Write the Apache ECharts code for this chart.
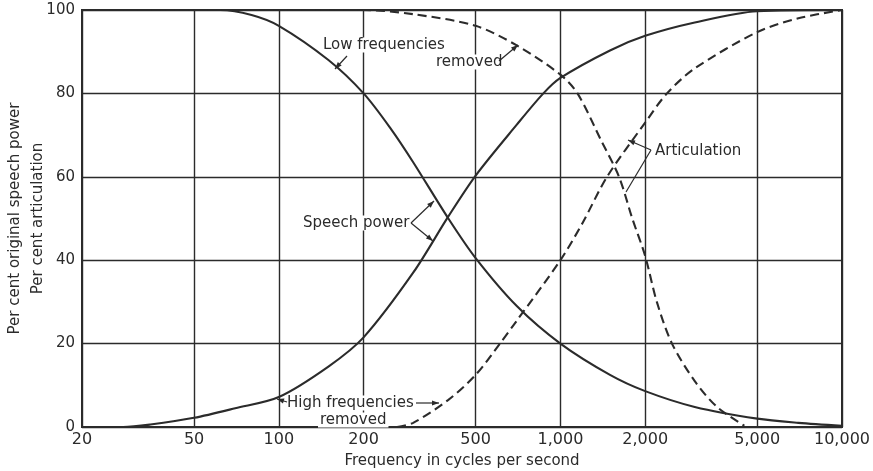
<!DOCTYPE html>
<html><head><meta charset="utf-8">
<script src="https://cdn.jsdelivr.net/npm/echarts@6/dist/echarts.min.js"></script>
<style>html,body{margin:0;padding:0;background:#fff}#c{width:873px;height:471px}</style>
</head><body><div id="c"></div>
<script>
// ---- data ----
const xTicks = [20, 50, 100, 200, 500, 1000, 2000, 5000, 10000];
const xTickLabels = ['20', '50', '100', '200', '500', '1,000', '2,000', '5,000', '10,000'];
const yTicks = [0, 20, 40, 60, 80, 100];

// Speech power, low frequencies removed (solid, falling)
const speechLowRemoved = [[20,100],[62,100],[80,98.8],[100,96.2],[150,88],[200,80],[250,71.5],[300,63.5],[400,50],[500,40.5],[700,29],[1000,20],[1500,12.5],[2000,8.6],[3000,4.8],[5000,2],[7000,1],[10000,0.3]];
// Speech power, high frequencies removed (solid, rising)
const speechHighRemoved = [[20,0],[28,0],[35,0.6],[50,2.2],[70,4.5],[100,7.2],[150,14.5],[200,21.5],[300,37],[400,50.5],[500,60.3],[700,72.5],[870,80],[1000,83.7],[1500,90.3],[2000,93.8],[3000,97],[5000,99.7],[10000,100]];
// Articulation, low frequencies removed (dashed, falling)
const articLowRemoved = [[20,100],[200,100],[300,99],[500,96.2],[700,91.5],[1000,84.5],[1150,80],[1400,68.5],[1615,60],[1800,50],[2000,41],[2200,30],[2490,20],[3000,11],[3600,4.8],[4500,0.3]];
// Articulation, high frequencies removed (dashed, rising)
const articHighRemoved = [[263,0],[300,1],[400,6.5],[500,12.5],[610,20],[700,25.5],[1000,40],[1200,49],[1464,60],[2000,73],[2390,80],[3000,86],[5000,94.7],[7000,98],[10000,100]];

const C = '#2b2b2b';
const FONT = 'DejaVu Sans';

const chart = echarts.init(document.getElementById('c'), null, {renderer: 'canvas'});

function labelFor(v) {
  let best = 0, bd = Infinity;
  xTicks.forEach((t, i) => { const d = Math.abs(Math.log(t) - Math.log(v)); if (d < bd) { bd = d; best = i; } });
  return xTickLabels[best];
}

function arrow(x1, y1, x2, y2, head) {
  const els = [{type: 'line', z: 100, shape: {x1, y1, x2, y2}, style: {stroke: C, lineWidth: 1.2}}];
  if (head !== false) {
    const a = Math.atan2(y2 - y1, x2 - x1), L = 7, W = 2.6;
    const bx = x2 - L * Math.cos(a), by = y2 - L * Math.sin(a);
    els.push({type: 'polygon', z: 100, shape: {points: [[x2, y2], [bx + W * Math.sin(a), by - W * Math.cos(a)], [bx - W * Math.sin(a), by + W * Math.cos(a)]]}, style: {fill: C}});
  }
  return els;
}
function txt(text, x, y, align) {
  return {type: 'text', z: 100, x, y, style: {text, font: '15px "' + FONT + '"', fill: C, align: align || 'left', verticalAlign: 'middle', backgroundColor: '#fff', padding: [0, 2]}};
}

const lineStyleSolid = {color: C, width: 2.1};
const lineStyleDash = {color: C, width: 2.1, type: [9, 5]};

function mkSeries(name, data, ls) {
  return {name, type: 'line', data, smooth: 0.3, showSymbol: false, symbol: 'none', lineStyle: ls, itemStyle: {color: C}, silent: true, z: 5};
}

const graphics = [].concat(
  [txt('Low frequencies', 321, 45)],
  arrow(347, 56, 335, 69),
  [txt('removed', 434, 62)],
  arrow(499, 61, 518, 45),
  [txt('Speech power', 301, 223)],
  arrow(411, 223, 434, 201),
  arrow(411, 223, 433, 241),
  [txt('Articulation', 653, 151)],
  arrow(651, 150, 628, 140),
  arrow(651, 150, 626, 192, false),
  [txt('High frequencies', 285, 403)],
  arrow(287, 402, 277, 399),
  arrow(416, 403, 439, 403),
  [txt('removed', 318, 420)]
);

chart.setOption({
  animation: false,
  backgroundColor: '#fff',
  grid: {left: 82, right: 31, top: 10, bottom: 44, outerBoundsMode: 'none', containLabel: false,
         show: true, borderColor: C, borderWidth: 2, backgroundColor: 'transparent'},
  xAxis: {
    type: 'log', logBase: 10, min: 20, max: 10000,
    name: 'Frequency in cycles per second', nameLocation: 'middle', nameGap: 27, nameMoveOverlap: false,
    nameTextStyle: {fontFamily: FONT, fontSize: 15, color: C},
    axisLine: {show: true, lineStyle: {color: C, width: 2}},
    axisTick: {show: false, customValues: xTicks},
    axisLabel: {customValues: xTicks, formatter: labelFor, margin: 5, fontFamily: FONT, fontSize: 16, color: C, hideOverlap: false},
    splitLine: {show: true, lineStyle: {color: C, width: 1.4}},
    minorTick: {show: false}, minorSplitLine: {show: false}
  },
  yAxis: {
    type: 'value', min: 0, max: 100, interval: 20,
    name: 'Per cent original speech power\nPer cent articulation', nameLocation: 'middle', nameRotate: 90, nameGap: 32, nameMoveOverlap: false,
    nameTextStyle: {fontFamily: FONT, fontSize: 15, color: C, lineHeight: 23},
    axisLine: {show: true, lineStyle: {color: C, width: 2}},
    axisTick: {show: false},
    axisLabel: {margin: 7, fontFamily: FONT, fontSize: 15, color: C},
    splitLine: {show: true, lineStyle: {color: C, width: 1.4}}
  },
  series: [
    mkSeries('Speech power, low frequencies removed', speechLowRemoved, lineStyleSolid),
    mkSeries('Speech power, high frequencies removed', speechHighRemoved, lineStyleSolid),
    mkSeries('Articulation, low frequencies removed', articLowRemoved, lineStyleDash),
    mkSeries('Articulation, high frequencies removed', articHighRemoved, lineStyleDash)
  ],
  graphic: graphics
});
</script>
</body></html>
